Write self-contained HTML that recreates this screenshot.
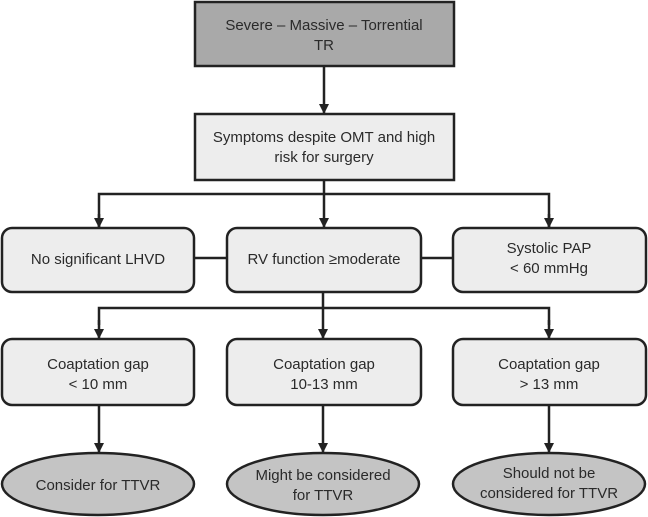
<!DOCTYPE html>
<html><head><meta charset="utf-8"><style>
html,body{margin:0;padding:0;background:#fff;}
svg{display:block;}
text{font-family:"Liberation Sans",Arial,sans-serif;font-size:15px;fill:#2a2a2a;text-anchor:middle;}
</style></head><body>
<svg width="648" height="517" viewBox="0 0 648 517" xmlns="http://www.w3.org/2000/svg">
<defs><marker id="a" markerWidth="10" markerHeight="10" refX="9" refY="5" orient="auto" markerUnits="userSpaceOnUse"><path d="M0,0 L10,5 L0,10 z" fill="#222"/></marker></defs>
<g stroke="#222" stroke-width="2.5" fill="none">
<line x1="324" y1="66" x2="324" y2="113" marker-end="url(#a)"/>
<line x1="324" y1="180" x2="324" y2="227" marker-end="url(#a)"/>
<polyline points="99,227 99,194 549,194 549,227" />
<line x1="99" y1="214" x2="99" y2="227" marker-end="url(#a)"/>
<line x1="549" y1="214" x2="549" y2="227" marker-end="url(#a)"/>
<line x1="194" y1="258" x2="453" y2="258"/>
<line x1="323" y1="292" x2="323" y2="338" marker-end="url(#a)"/>
<polyline points="99,325 99,308 549,308 549,325"/>
<line x1="99" y1="320" x2="99" y2="338" marker-end="url(#a)"/>
<line x1="549" y1="320" x2="549" y2="338" marker-end="url(#a)"/>
<line x1="99" y1="405" x2="99" y2="452" marker-end="url(#a)"/>
<line x1="323" y1="405" x2="323" y2="452" marker-end="url(#a)"/>
<line x1="549" y1="405" x2="549" y2="452" marker-end="url(#a)"/>
</g>
<g stroke="#222" stroke-width="2.5">
<rect x="195" y="2" width="259" height="64" fill="#a9a9a9"/>
<rect x="195" y="114" width="259" height="66" fill="#ededed"/>
<rect x="2" y="228" width="192" height="64" rx="10" fill="#ededed"/>
<rect x="227" y="228" width="194" height="64" rx="10" fill="#ededed"/>
<rect x="453" y="228" width="193" height="64" rx="10" fill="#ededed"/>
<rect x="2" y="339" width="192" height="66" rx="10" fill="#ededed"/>
<rect x="227" y="339" width="194" height="66" rx="10" fill="#ededed"/>
<rect x="453" y="339" width="193" height="66" rx="10" fill="#ededed"/>
<ellipse cx="98" cy="484" rx="96" ry="31" fill="#c4c4c4"/>
<ellipse cx="323" cy="484" rx="96" ry="31" fill="#c4c4c4"/>
<ellipse cx="549" cy="484" rx="96" ry="31" fill="#c4c4c4"/>
</g>
<text x="324" y="30">Severe – Massive – Torrential</text>
<text x="324" y="50">TR</text>
<text x="324" y="142">Symptoms despite OMT and high</text>
<text x="324" y="162">risk for surgery</text>
<text x="98" y="264">No significant LHVD</text>
<text x="324" y="264">RV function ≥moderate</text>
<text x="549" y="253">Systolic PAP</text>
<text x="549" y="273">&lt; 60 mmHg</text>
<text x="98" y="369">Coaptation gap</text>
<text x="98" y="389">&lt; 10 mm</text>
<text x="324" y="369">Coaptation gap</text>
<text x="324" y="389">10-13 mm</text>
<text x="549" y="369">Coaptation gap</text>
<text x="549" y="389">&gt; 13 mm</text>
<text x="98" y="490">Consider for TTVR</text>
<text x="323" y="480">Might be considered</text>
<text x="323" y="500">for TTVR</text>
<text x="549" y="478">Should not be</text>
<text x="549" y="498">considered for TTVR</text>
</svg>
</body></html>
